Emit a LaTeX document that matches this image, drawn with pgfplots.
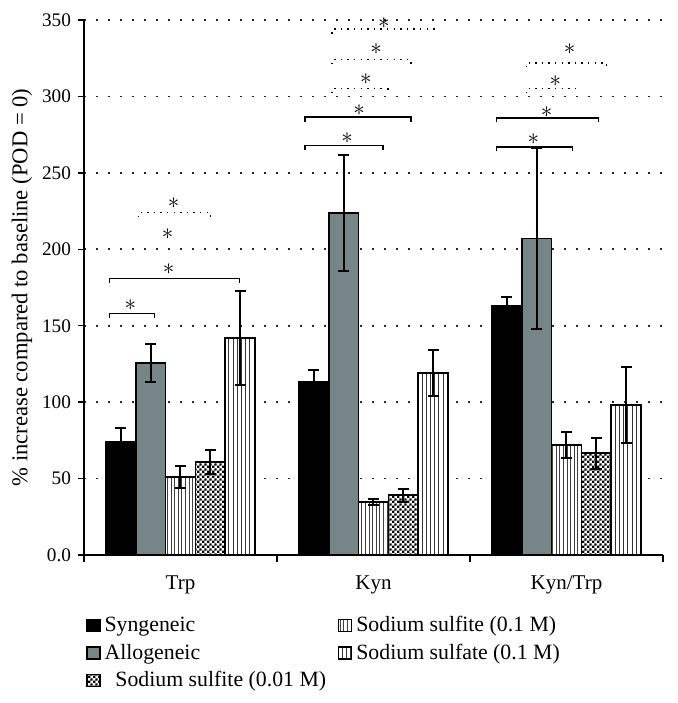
\documentclass[border=0pt]{standalone}
\usepackage{fontspec}
\setmainfont{Liberation Serif}
\usepackage{pgfplots}
\pgfplotsset{compat=1.18}
\usetikzlibrary{patterns}
\pgfdeclarepatternformonly{fvl}{\pgfqpoint{0pt}{-0.1pt}}{\pgfqpoint{1.8pt}{1.1pt}}{\pgfqpoint{1.8pt}{1pt}}{%
 \pgfsetlinewidth{0.35pt}\pgfpathmoveto{\pgfqpoint{0.9pt}{-0.1pt}}\pgfpathlineto{\pgfqpoint{0.9pt}{1.1pt}}\pgfusepath{stroke}}
\pgfdeclarepatternformonly{svl}{\pgfqpoint{0pt}{-0.1pt}}{\pgfqpoint{2.1pt}{1.1pt}}{\pgfqpoint{2.1pt}{1pt}}{%
 \pgfsetlinewidth{0.45pt}\pgfpathmoveto{\pgfqpoint{1.05pt}{-0.1pt}}\pgfpathlineto{\pgfqpoint{1.05pt}{1.1pt}}\pgfusepath{stroke}}
\pgfdeclarepatternformonly{chk}{\pgfqpoint{0pt}{0pt}}{\pgfqpoint{2.6pt}{2.6pt}}{\pgfqpoint{2.6pt}{2.6pt}}{%
 \pgfpathrectangle{\pgfqpoint{0pt}{0pt}}{\pgfqpoint{1.3pt}{1.3pt}}\pgfpathrectangle{\pgfqpoint{1.3pt}{1.3pt}}{\pgfqpoint{1.3pt}{1.3pt}}\pgfusepath{fill}}
\definecolor{allo}{RGB}{118,134,136}
\pgfplotsset{
 mybar/.style={ybar, bar width=0.155, bar shift=0pt, draw=black, line width=0.9pt,
   legend image code/.code={\draw[##1, line width=0.6pt] (0pt,-3pt) rectangle (6.5pt,3pt);},
   error bars/y dir=both, error bars/y explicit,
   error bars/error bar style={line width=1pt, black, solid},
   error bars/error mark options={rotate=90, mark size=2.6pt, line width=1pt, black}},
}
\newcommand{\brk}[4]{\draw[black, line width=0.7pt, #4] (axis cs:#1,#3-3) -- (axis cs:#1,#3) -- (axis cs:#2,#3) -- (axis cs:#2,#3-3);}
\newcommand{\st}[2]{\node[inner sep=0pt, scale=1.15] at (axis cs:#1,#2) {$\ast$};}
\begin{document}
\begin{tikzpicture}
\useasboundingbox (-42pt,-74pt) rectangle (297pt,277.5pt);
\begin{axis}[
 at={(0,0)}, anchor=south west, scale only axis, width=289.5pt, height=267.5pt,
 xmin=-0.5, xmax=2.5, ymin=0, ymax=350, clip=false,
 axis lines=left, axis line style={-, line width=0.8pt, black},
 tick align=outside, major tick length=3pt, minor tick length=3.5pt,
 xtick={0,1,2}, xticklabels={Trp,Kyn,Kyn/Trp}, minor xtick={-0.5,0.5,1.5,2.5},
 major x tick style={draw=none}, minor x tick style={line width=0.7pt, black},
 ytick={0,50,...,350}, yticklabels={0.0,50,100,150,200,250,300,350},
 y tick style={line width=0.7pt, black},
 /pgf/number format/assume math mode=true,
 xticklabel style={yshift=-4pt, font=\fontsize{10.5}{12}\selectfont},
 yticklabel style={font=\fontsize{9.6}{11}\selectfont},
 ymajorgrids, major grid style={black!85, line width=0.8pt, dash pattern=on 0.8pt off 5.2pt},
 ylabel={\% increase compared to baseline (POD = 0)},
 ylabel style={at={(axis description cs:-0.107,0.5)}, anchor=center, font=\fontsize{11.3}{13}\selectfont},
 legend columns=2,
 legend style={at={(rel axis cs:-0.007,-0.099)}, anchor=north west, draw=none, fill=none,
   font=\fontsize{10.9}{13}\selectfont, cells={anchor=west}, row sep=0.6pt,
   /tikz/every even column/.append style={column sep=4pt}},
]
\addplot[mybar, fill=black] coordinates {(-0.31,74) +- (0,9) (0.69,113) +- (0,8) (1.69,163) +- (0,6)};
\addlegendentry{Syngeneic}
\addplot[mybar, fill=white, postaction={pattern=fvl, pattern color=black!75}] coordinates {(0,51) +- (0,7) (1,34.5) +- (0,2) (2,72) +- (0,8.5)};
\addlegendentry{Sodium sulfite (0.1 M)}
\addplot[mybar, fill=allo] coordinates {(-0.155,125.5) +- (0,12.5) (0.845,224) +- (0,38) (1.845,207) +- (0,59)};
\addlegendentry{Allogeneic}
\addplot[mybar, fill=white, postaction={pattern=svl, pattern color=black!80}] coordinates {(0.31,142) +- (0,31) (1.31,119) +- (0,15) (2.31,98) +- (0,25)};
\addlegendentry{Sodium sulfate (0.1 M)}
\addplot[mybar, fill=white, postaction={pattern=chk, pattern color=black}] coordinates {(0.155,61) +- (0,8) (1.155,39) +- (0,4) (2.155,66.5) +- (0,10)};
\addlegendentry{\ \ Sodium sulfite (0.01 M)}
% significance brackets
\brk{-0.367}{-0.134}{158}{solid} \st{-0.26}{163.5}
\brk{-0.367}{0.305}{181}{solid} \st{-0.062}{187}
\st{-0.067}{210}
\brk{-0.217}{0.155}{224}{dash pattern=on 0.7pt off 2.6pt} \st{-0.036}{230}
\brk{0.646}{1.049}{268}{solid} \st{0.863}{273}
\brk{0.646}{1.194}{286.5}{solid} \st{0.925}{291}
\brk{0.786}{1.075}{305}{dash pattern=on 0.7pt off 2.6pt} \st{0.961}{311}
\brk{0.786}{1.194}{324}{dash pattern=on 0.7pt off 2.6pt} \st{1.013}{331}
\brk{0.786}{1.318}{344}{dash pattern=on 0.7pt off 2.6pt} \st{1.054}{348}
\brk{1.638}{2.031}{267}{solid} \st{1.829}{272}
\brk{1.638}{2.165}{286}{solid} \st{1.897}{290}
\brk{1.793}{2.052}{305}{dash pattern=on 0.7pt off 2.6pt} \st{1.943}{310}
\brk{1.793}{2.207}{322}{dash pattern=on 0.7pt off 2.6pt} \st{2.016}{331}
\end{axis}
\end{tikzpicture}
\end{document}
